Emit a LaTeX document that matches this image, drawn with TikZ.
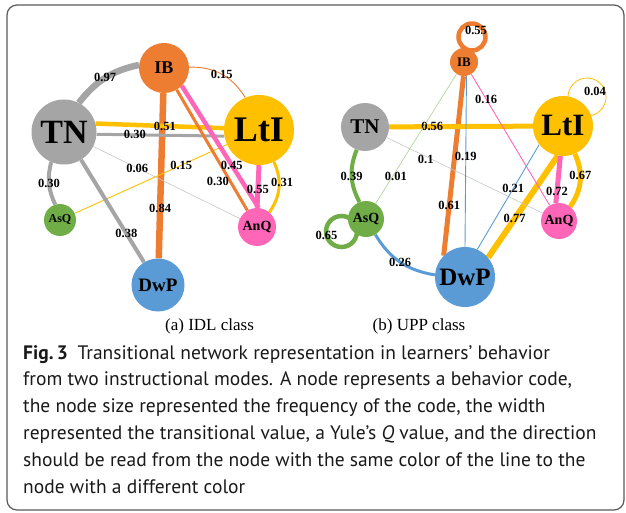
\documentclass[tikz,border=0pt]{standalone}
\usepackage{fontspec}
\setmainfont{Liberation Serif}
\newfontfamily\capfont{PT Sans}
\usetikzlibrary{positioning, calc}
\pgfdeclarelayer{background}
\pgfsetlayers{background,main}
\definecolor{cgray}{HTML}{A5A5A5}
\definecolor{clgray}{HTML}{C8C8C8}
\definecolor{corange}{HTML}{ED7D31}
\definecolor{cyellow}{HTML}{FFC000}
\definecolor{cgreen}{HTML}{70AD47}
\definecolor{clgreen}{HTML}{A9D18E}
\definecolor{cpink}{HTML}{FF66B8}
\definecolor{cblue}{HTML}{5B9BD5}

\begin{document}
\begin{tikzpicture}[x=1pt, y=1pt]
    \tikzstyle{beh}=[circle, inner sep=0pt, text=black]
    \tikzstyle{sz}=[font=\bfseries\fontsize{#1}{#1}\selectfont]
    \tikzstyle{lbl}=[inner sep=0pt, text=black, font=\bfseries\fontsize{12.5}{12.5}\selectfont]
    \useasboundingbox (0,0) rectangle (626,512);
    \draw[rounded corners=10pt, line width=1.2pt, black!65] (7,2) rectangle (624,507);

    % (a) IDL class
    \node[beh, fill=cgray, minimum size=65, sz=34] (ltn) at (64,380) {TN};
    \node[beh, fill=corange, minimum size=50, sz=18] (lib) at (164,444) {IB};
    \node[beh, fill=cyellow, minimum size=70, sz=36] (llti) at (259,382) {LtI};
    \node[beh, fill=cgreen, minimum size=32, sz=12] (lasq) at (60,292) {AsQ};
    \node[beh, fill=cpink, minimum size=38, sz=14] (lanq) at (257,285) {AnQ};
    \node[beh, fill=cblue, minimum size=53, sz=19] (ldwp) at (158,227) {DwP};

    % (b) UPP class
    \node[beh, fill=corange, minimum size=28, sz=13] (rib) at (464,450) {IB};
    \node[beh, fill=cgray, minimum size=48, sz=21] (rtn) at (365,385) {TN};
    \node[beh, fill=cyellow, minimum size=60, sz=31] (rlti) at (563,386) {LtI};
    \node[beh, fill=cgreen, minimum size=36, sz=14] (rasq) at (366,293) {AsQ};
    \node[beh, fill=cpink, minimum size=36, sz=14] (ranq) at (559,291) {AnQ};
    \node[beh, fill=cblue, minimum size=60, sz=25] (rdwp) at (465,235) {DwP};

    \begin{pgfonlayer}{background}
    \draw[corange, line width=6.5] (lib) -- node[lbl, pos=.7] {0.84} (ldwp);
    \draw[cgray, line width=6.5] (ltn.63) to[bend left=20] node[lbl] {0.97} (lib.173);
    \draw[corange, line width=0.9] (lib.2) to[bend left=30] node[lbl] {0.15} (llti.113);
    \draw[cyellow, line width=4.5] (ltn.15) -- node[lbl, pos=.54] {0.51} (llti.177);
    \draw[cgray, line width=3] (ltn.-4) -- node[lbl, pos=.3] {0.30} (llti.190);
    \draw[clgray, line width=0.6] (ltn) -- node[lbl, pos=.3] {0.06} (lanq);
    \draw[cyellow, line width=0.9] (llti) -- node[lbl, pos=.3] {0.15} (lasq);
    \draw[corange, line width=3] (lib) -- node[lbl, pos=.76, anchor=east] {0.30} (lanq);
    \draw[cpink, line width=4.5] (lib.-45) -- node[lbl, pos=.65] {0.45} (lanq.85);
    \draw[cpink, line width=5] (llti.south) -- node[lbl, pos=.58] {0.55} (lanq.north);
    \draw[cyellow, line width=3] (llti.-65) to[bend left=30] node[lbl, pos=.4, xshift=3] {0.31} (lanq.50);
    \draw[cgray, line width=4] (ltn.-113) to[bend right=20] node[lbl] {0.30} (lasq.107);
    \draw[cgray, line width=4] (ltn) -- node[lbl, pos=.72] {0.38} (ldwp);

    \draw[corange, line width=5] (rib.-92) -- node[lbl, pos=.72] {0.61} (rdwp.135);
    \draw[cyellow, line width=6] (rlti.-100) -- node[lbl, pos=.62] {0.77} (rdwp.40);
    \draw[cyellow, line width=5] (rtn) -- node[lbl, pos=.3] {0.56} (rlti);
    \draw[clgray, line width=0.6] (rtn) -- node[lbl, pos=.25, yshift=-3] {0.1} (ranq);
    \draw[cgreen, line width=4] (rtn.-110) to[bend right=25] node[lbl] {0.39} (rasq.111);
    \draw[clgreen, line width=0.6] (rib) -- node[lbl, pos=.75, yshift=-5] {0.01} (rasq);
    \draw[cblue, line width=0.9] (rib.-80) -- node[lbl, pos=.47] {0.19} (rdwp.north);
    \draw[cpink, line width=0.9] (rib) -- node[lbl, pos=.19] {0.16} (ranq);
    \draw[cblue, line width=0.9] (rdwp.66) -- node[lbl, pos=.58] {0.21} (rlti.218);
    \draw[cpink, line width=5] (rlti.-95) -- node[lbl, pos=.75] {0.72} (ranq.100);
    \draw[cyellow, line width=5] (rlti.-67) to[bend left=30] node[lbl, pos=.4] {0.67} (ranq.52);
    \draw[cblue, line width=3] (rasq.-59) to[bend right=25] node[lbl] {0.26} (rdwp.176);
    % self loops
    \draw[corange, line width=4.5] (rib.center) ++(8,25) circle (13.5) node[lbl, xshift=4, yshift=7] {0.55};
    \draw[cyellow, line width=0.8] (rlti.center) ++(24,29) circle (19) node[lbl, xshift=8, yshift=6] {0.04};
    \draw[cgreen, line width=4.5] (rasq.center) ++(-24.5,-12.5) circle (15.5) node[lbl, xshift=-15, yshift=-3.5] {0.65};
    \end{pgfonlayer}

    \node[font=\fontsize{17}{17}\selectfont] (capa) at (209.5,186) {(a) IDL class};
    \node[font=\fontsize{17}{17}\selectfont] (capb) at (419,186) {(b) UPP class};

    \node[anchor=north west, align=left, inner sep=0pt, text=black!90, font=\capfont\fontsize{19.5}{26.9}\selectfont] (fig) at (23,167)
      {\textbf{Fig.\,3}\enspace Transitional network representation in learners’ behavior\\
       from two instructional modes. A node represents a behavior code,\\
       the node size represented the frequency of the code, the width\\
       represented the transitional value, a Yule’s \textit{Q} value, and the direction\\
       should be read from the node with the same color of the line to the\\
       node with a different color};
  \end{tikzpicture}
\end{document}
